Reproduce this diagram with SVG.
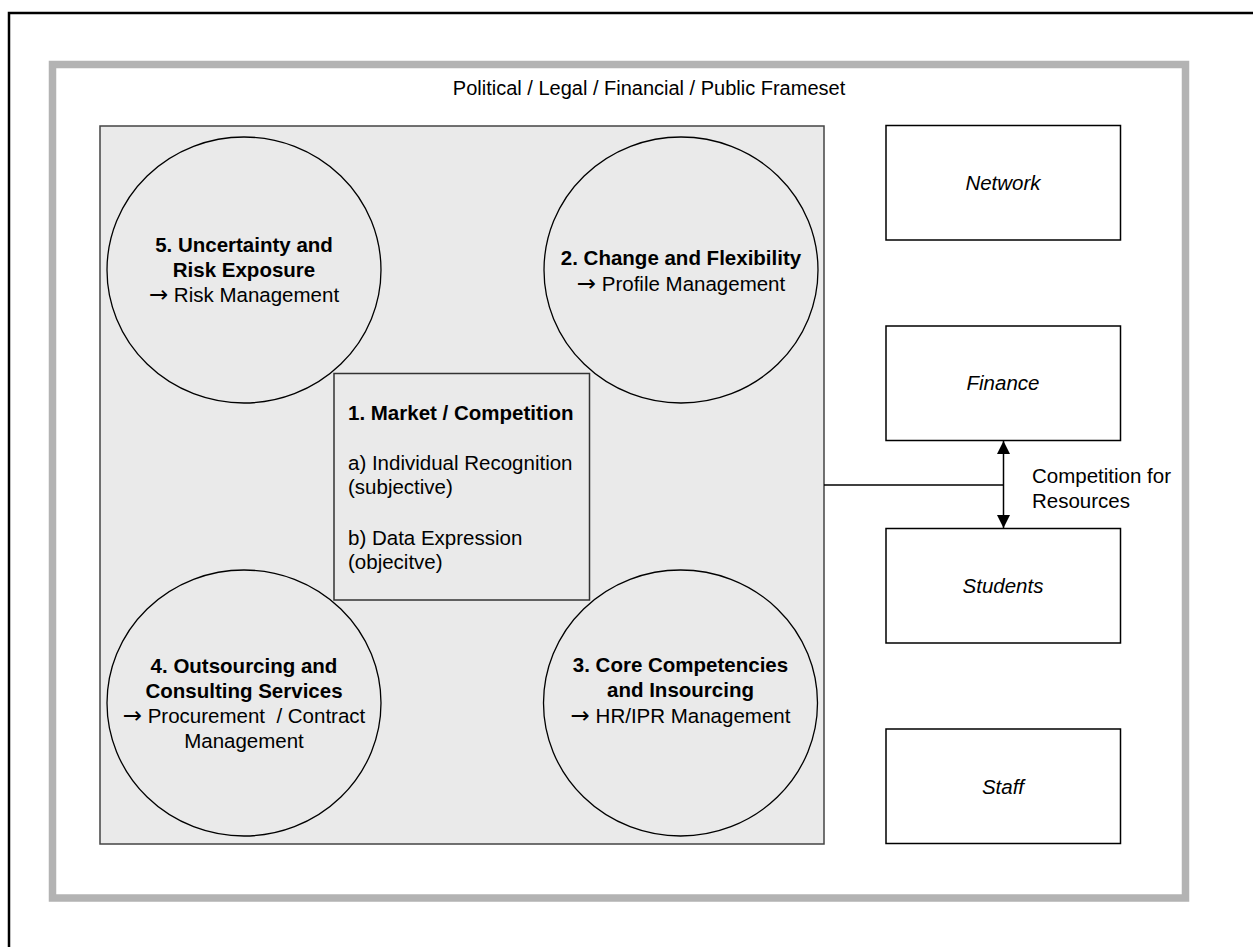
<svg xmlns="http://www.w3.org/2000/svg" width="1253" height="947" viewBox="0 0 1253 947">
<style>
text{font-family:"Liberation Sans",Arial,sans-serif;font-size:20.5px;fill:#000}
.b{font-weight:bold}
.i{font-style:italic}
.c{text-anchor:middle}
.ar{font-family:"DejaVu Sans",sans-serif;font-size:23px}
.circ{fill:none;stroke:#000;stroke-width:1.3}
.box{fill:#fff;stroke:#000;stroke-width:1.5}
</style>
<defs>
<marker id="ah" viewBox="0 0 10 10" refX="10" refY="5" markerWidth="13" markerHeight="13" markerUnits="userSpaceOnUse" orient="auto-start-reverse">
<path d="M0,0 L10,5 L0,10 z" fill="#000"/>
</marker>
</defs>
<rect width="1253" height="947" fill="#fff"/>
<g id="page-frame">
<rect x="9" y="13" width="1300" height="1000" fill="none" stroke="#000" stroke-width="2.5"/>
</g>
<g id="frameset">
<rect x="52.5" y="64.5" width="1133" height="833.5" fill="#fff" stroke="#b3b3b3" stroke-width="7.5"/>
<text class="c" x="649" y="95" style="font-size:20px">Political / Legal / Financial / Public Frameset</text>
</g>
<g id="core-area">
<rect x="100" y="126" width="724" height="718" fill="#eaeaea" stroke="#444" stroke-width="1.5"/>
</g>
<g id="c5">
<ellipse class="circ" cx="244" cy="270" rx="137" ry="133"/>
<text class="c b" x="244" y="252">5. Uncertainty and</text>
<text class="c b" x="244" y="277">Risk Exposure</text>
<text class="c" x="244" y="302"><tspan class="ar">→</tspan> Risk Management</text>
</g>
<g id="c2">
<ellipse class="circ" cx="681" cy="270" rx="137" ry="133"/>
<text class="c b" x="681" y="265">2. Change and Flexibility</text>
<text class="c" x="681" y="291"><tspan class="ar">→</tspan> Profile Management</text>
</g>
<g id="c4">
<ellipse class="circ" cx="244" cy="703" rx="137" ry="133"/>
<text class="c b" x="244" y="673">4. Outsourcing and</text>
<text class="c b" x="244" y="698">Consulting Services</text>
<text class="c" x="244" y="723" xml:space="preserve"><tspan class="ar">→</tspan> Procurement  / Contract</text>
<text class="c" x="244" y="748">Management</text>
</g>
<g id="c3">
<ellipse class="circ" cx="680.5" cy="703" rx="137" ry="133"/>
<text class="c b" x="680.5" y="672">3. Core Competencies</text>
<text class="c b" x="680.5" y="697">and Insourcing</text>
<text class="c" x="680.5" y="723"><tspan class="ar">→</tspan> HR/IPR Management</text>
</g>
<g id="market">
<rect x="334" y="373.5" width="255.5" height="226.5" fill="#eaeaea" stroke="#333" stroke-width="1.5"/>
<text class="b" x="348" y="420">1. Market / Competition</text>
<text x="348" y="470">a) Individual Recognition</text>
<text x="348" y="494">(subjective)</text>
<text x="348" y="545">b) Data Expression</text>
<text x="348" y="569">(objecitve)</text>
</g>
<g id="network">
<rect class="box" x="886" y="125.5" width="234.5" height="114.5"/>
<text class="c i" x="1003" y="190">Network</text>
</g>
<g id="finance">
<rect class="box" x="886" y="326" width="234.5" height="114.5"/>
<text class="c i" x="1003" y="390">Finance</text>
</g>
<g id="students">
<rect class="box" x="886" y="528.5" width="234.5" height="114.5"/>
<text class="c i" x="1003" y="593">Students</text>
</g>
<g id="staff">
<rect class="box" x="886" y="729" width="234.5" height="114.5"/>
<text class="c i" x="1003" y="794">Staff</text>
</g>
<g id="connectors" stroke="#000" stroke-width="1.5" fill="none">
<path d="M824,485 H1003.5"/>
<path d="M1003.5,441 V528" marker-start="url(#ah)" marker-end="url(#ah)"/>
</g>
<g id="connector-label">
<text x="1032" y="483">Competition for</text>
<text x="1032" y="508">Resources</text>
</g>
</svg>
